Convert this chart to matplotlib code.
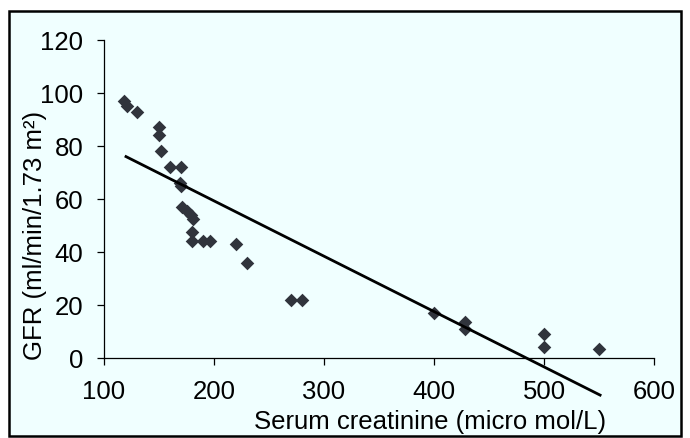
import matplotlib
matplotlib.use("Agg")
from matplotlib import pyplot as plt
from matplotlib.patches import Rectangle

plt.rcParams['font.family'] = ['Liberation Sans', 'DejaVu Sans']

# serum creatinine vs GFR
creatinine = [118, 121, 130, 150, 150, 152, 160, 170, 169, 170, 171, 175, 179, 181,
              180, 180, 190, 196, 220, 230, 270, 280, 400, 428, 428, 500, 500, 550]
gfr = [97, 95, 93, 87, 84, 78, 72, 72, 66, 65, 57, 55.5, 54, 52.5,
       47.5, 44, 44, 44, 43, 36, 22, 22, 17, 13.5, 11, 9, 4, 3.5]

# linear trend line (end points)
trend_x = [120, 551]
trend_y = [76, -14]

x_ticks = [100, 200, 300, 400, 500, 600]
y_ticks = [0, 20, 40, 60, 80, 100, 120]

bg = '#F0FFFF'

fig = plt.figure(figsize=(6.9, 4.39), dpi=100)
fig.patch.set_facecolor('white')
frame = Rectangle((9 / 690, 2 / 439), 672 / 690, 425 / 439, transform=fig.transFigure,
                  facecolor=bg, edgecolor='black', linewidth=1.8, zorder=-5)
fig.patches.append(frame)

ax = fig.add_axes([104 / 690, 1 - 359 / 439, 550 / 690, 318 / 439])
ax.set_zorder(2)
ax.patch.set_visible(False)

ax.scatter(creatinine, gfr, marker='D', s=48, color='#30343c', zorder=3, linewidths=0)
ax.plot(trend_x, trend_y, color='black', linewidth=2.0, clip_on=False, zorder=4)

ax.set_xlim(100, 600)
ax.set_ylim(0, 120)
ax.set_xticks(x_ticks)
ax.set_yticks(y_ticks)

for s in ['top', 'right']:
    ax.spines[s].set_visible(False)
for s in ['left', 'bottom']:
    ax.spines[s].set_linewidth(0.9)

ax.tick_params(axis='both', direction='out', length=5, width=0.9, labelsize=18.5, pad=10)

ax.text(0.592, -0.16, 'Serum creatinine (micro mol/L)', transform=ax.transAxes,
        ha='center', va='top', fontsize=18.5)
ax.text(-0.126, 0.387, 'GFR (ml/min/1.73 m²)', transform=ax.transAxes,
        ha='center', va='center', rotation=90, fontsize=18.5)

plt.savefig('out.png', dpi=100, facecolor=fig.get_facecolor())
